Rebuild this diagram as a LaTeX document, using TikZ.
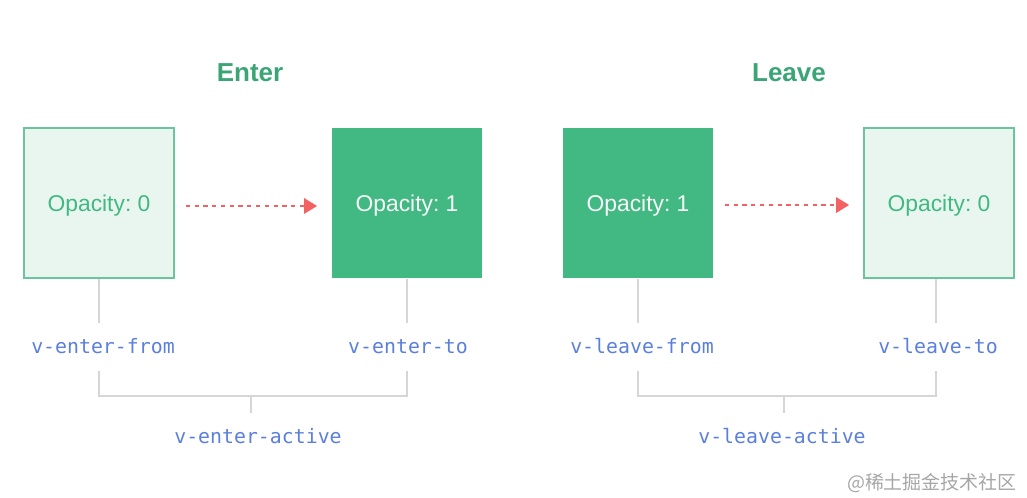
\documentclass[tikz,border=0pt]{standalone}
\usepackage{fontspec}
\setmainfont{Liberation Sans}
\setmonofont{DejaVu Sans Mono}
\newfontfamily\cjk{Noto Sans CJK SC}
\usetikzlibrary{arrows.meta}
\frenchspacing
\definecolor{vuegreen}{HTML}{42B883}
\definecolor{palegreen}{HTML}{E9F6EF}
\definecolor{edgegreen}{HTML}{6CC49E}
\definecolor{flowred}{HTML}{F26262}
\definecolor{codeblue}{HTML}{5B7FDC}
\definecolor{tiegray}{HTML}{D6D6D6}
\tikzset{
  faded/.style={draw=edgegreen, fill=palegreen, line width=0.9pt, minimum width=3.0cm, minimum height=3.0cm, text=vuegreen, font=\fontsize{13}{15}\selectfont, text depth=0pt},
  solid box/.style={fill=vuegreen, minimum width=3.02cm, minimum height=3.02cm, text=white!95!vuegreen, font=\fontsize{13}{15}\selectfont, text depth=0pt},
  heading/.style={text=vuegreen!90!black, font=\fontsize{14.8}{17}\selectfont\bfseries},
  code/.style={text=codeblue, font=\ttfamily\fontsize{11.3}{13}\selectfont, inner sep=0pt, minimum height=0.96cm, text height=1.6ex, text depth=0.3ex},
  tie/.style={draw=tiegray, line width=0.8pt},
  flow/.style={draw=flowred, line width=1.6pt, dash pattern=on 2.4pt off 2.6pt, -{Triangle[length=0.26cm,width=0.3cm]}, shorten <=0.22cm, shorten >=0.28cm}
}
\begin{document}
\begin{tikzpicture}[x=0.02cm,y=-0.02cm]
    \useasboundingbox (0,0) rectangle (1027,497);

    \node[heading] (enter) at (250,73) {Enter};
    \node[heading] (leave) at (789,73) {Leave};

    % boxes
    \node[faded] (ea) at (99,203) {Opacity: 0};
    \node[solid box] (eb) at (407,203) {Opacity: 1};
    \node[solid box] (la) at (638,203) {Opacity: 1};
    \node[faded] (lb) at (939,203) {Opacity: 0};

    \draw[flow] ([yshift=-0.06cm]ea.east) -- ([yshift=-0.06cm]eb.west);
    \draw[flow] ([yshift=-0.04cm]la.east) -- ([yshift=-0.04cm]lb.west);

    % class names
    \node[code] (eafrom) at (103,347) {v-enter-from};
    \node[code] (ebto) at (408,347) {v-enter-to};
    \node[code] (lafrom) at (642,347) {v-leave-from};
    \node[code] (lbto) at (938,347) {v-leave-to};
    \node[code] (eactive) at (258,437) {v-enter-active};
    \node[code] (lactive) at (782,437) {v-leave-active};

    \draw[tie] (ea.south) -- (ea.south |- eafrom.north);
    \draw[tie] (eb.south) -- (eb.south |- ebto.north);
    \draw[tie] (la.south) -- (la.south |- lafrom.north);
    \draw[tie] (lb.south-|936,0) -- (936,0 |- lbto.north);

    % brackets
    \coordinate (ejoin) at (251,396);
    \coordinate (ljoin) at (784,396);
    \draw[tie] (ea.south |- eafrom.south) -- (ea.south |- ejoin) -- (eb.south |- ejoin) -- (eb.south |- ebto.south);
    \draw[tie] (ejoin) -- (ejoin |- eactive.north);
    \draw[tie] (la.south |- lafrom.south) -- (la.south |- ljoin) -- (936,396) -- (936,0 |- lbto.south);
    \draw[tie] (ljoin) -- (ljoin |- lactive.north);

    \node[text=black!35, font=\cjk\fontsize{10.8}{12}\selectfont, anchor=east] (mark) at (1023,483) {@稀土掘金技术社区};
\end{tikzpicture}
\end{document}
